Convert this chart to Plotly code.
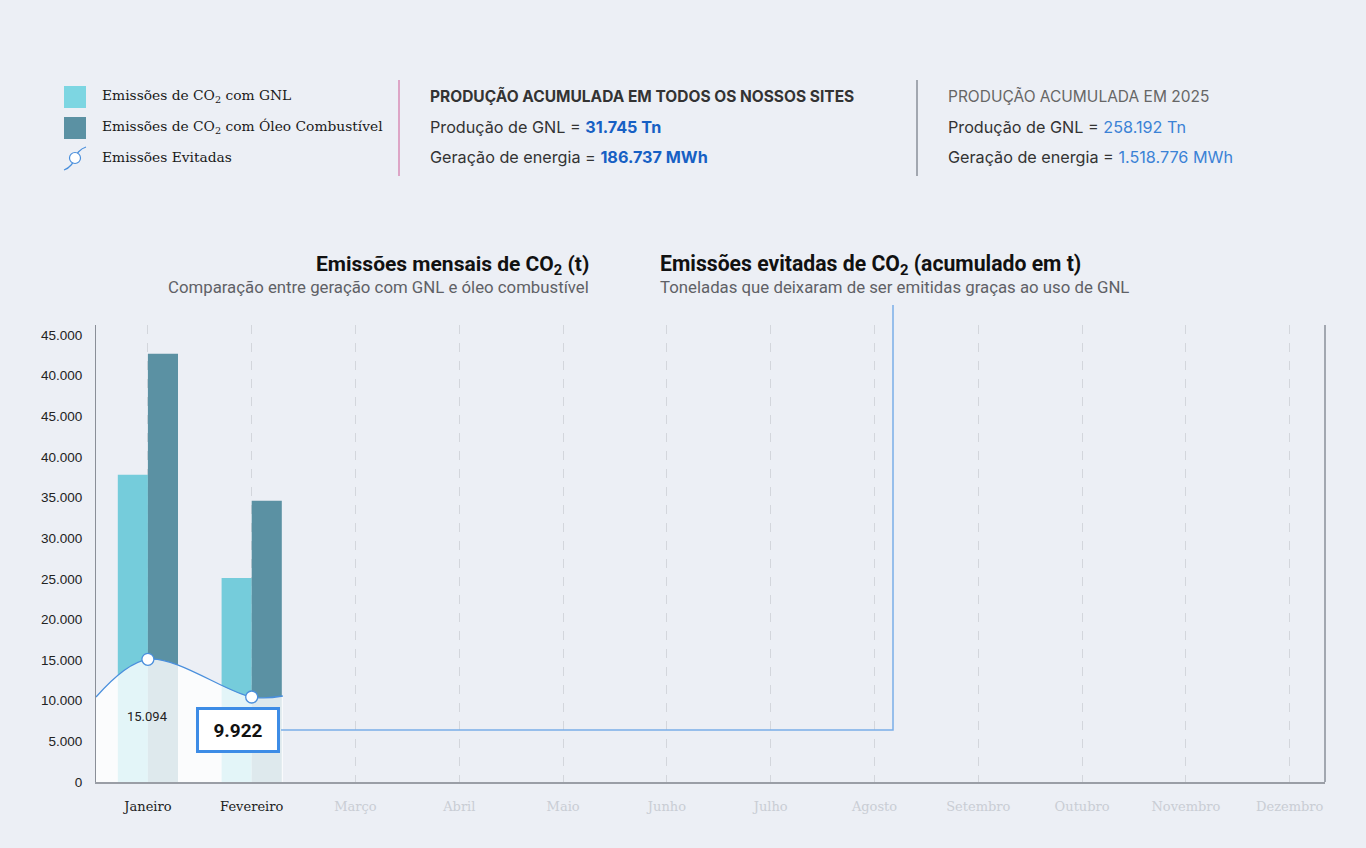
import plotly.graph_objects as go

# --- data ---
meses = ["Janeiro", "Fevereiro", "Março", "Abril", "Maio", "Junho", "Julho",
         "Agosto", "Setembro", "Outubro", "Novembro", "Dezembro"]
meses_idx = list(range(len(meses)))
meses_com_dados = [0, 1]

emissoes_gnl = [37800, 25100]
emissoes_oleo = [52700, 34600]

# curva de emissões evitadas (inclui pontos de borda da área)
evitadas_x = [-0.5, 0, 1, 1.3]
evitadas_y = [10460, 15094, 10460, 10580]
evitadas_pontos = [15094, 10460]
evitadas_rotulos = ["15.094", "9.922"]

y_tickvals = [0, 5000, 10000, 15000, 20000, 25000, 30000, 35000, 40000, 45000, 50000, 55000]
y_ticktext = ["0", "5.000", "10.000", "15.000", "20.000", "25.000", "30.000",
              "35.000", "40.000", "45.000", "40.000", "45.000"]

COR_GNL = "#75ccdb"
COR_OLEO = "#5b91a3"
COR_LINHA = "#4a8fdc"
BG = "#eceff5"

W, H = 1366, 848
M_L, M_R, M_T, M_B = 96, 41, 325, 66


def px(x):
    return (x - M_L) / (W - M_L - M_R)


def py(y):
    return (H - M_B - y) / (H - M_T - M_B)


def texto(fig, x, y, txt, size, color="#222", family="Roboto", anchor="left"):
    fig.add_annotation(xref="paper", yref="paper", x=px(x), y=py(y),
                       xanchor=anchor, yanchor="middle", text=txt, showarrow=False,
                       font=dict(family=family, size=size, color=color))


fig = go.Figure()

fig.add_trace(go.Bar(x=meses_com_dados, y=emissoes_gnl, marker_color=COR_GNL,
                     marker_line_width=0, name="GNL", hoverinfo="y"))
fig.add_trace(go.Bar(x=meses_com_dados, y=emissoes_oleo, marker_color=COR_OLEO,
                     marker_line_width=0, name="Óleo", hoverinfo="y"))

fig.add_trace(go.Scatter(
    x=evitadas_x, y=evitadas_y, mode="lines",
    line=dict(color=COR_LINHA, width=1.3, shape="spline", smoothing=1),
    fill="tozeroy", fillcolor="rgba(255,255,255,0.8)", hoverinfo="skip",
))
fig.add_trace(go.Scatter(
    x=meses_com_dados, y=evitadas_pontos, mode="markers",
    marker=dict(size=12, color="white", line=dict(color=COR_LINHA, width=1.3)),
    hoverinfo="y",
))

tick_months = []
for i, m in enumerate(meses):
    cor = "#222222" if i in meses_com_dados else "#c9cdd4"
    tick_months.append(f"<span style='color:{cor}'>{m}</span>")

fig.update_layout(
    width=W, height=H,
    margin=dict(l=M_L, r=M_R, t=M_T, b=M_B),
    paper_bgcolor=BG, plot_bgcolor=BG,
    showlegend=False,
    barmode="group", bargap=0.42, bargroupgap=0,
    xaxis=dict(
        range=[-0.5, 11.34], tickvals=meses_idx, ticktext=tick_months,
        showgrid=True, gridcolor="#d3d6dc", griddash="dash", gridwidth=1,
        showline=True, linecolor="#9a9ea6", linewidth=1.5, zeroline=False,
        tickfont=dict(family="DejaVu Serif", size=13, color="#222"),
        ticks="", ticklabelstandoff=12,
    ),
    yaxis=dict(
        range=[0, 56230], tickvals=y_tickvals, ticktext=y_ticktext,
        showgrid=False, zeroline=False,
        showline=True, linecolor="#8a8f98", linewidth=1,
        tickfont=dict(family="Liberation Sans", size=13.5, color="#222"),
        ticks="", ticklabelstandoff=10,
    ),
)

# linha do eixo à direita
fig.add_shape(type="line", xref="paper", yref="paper", x0=1, x1=1, y0=0, y1=1,
              line=dict(color="#8a8f98", width=1.5))

# conector entre o rótulo e o título da direita
fig.add_shape(type="path", xref="paper", yref="paper",
              path=f"M {px(281)} {py(730)} L {px(893)} {py(730)} L {px(893)} {py(305)}",
              line=dict(color="#7aaee8", width=1.5))

# rótulos dos valores evitados
fig.add_annotation(x=meses_com_dados[0], y=8100, text=evitadas_rotulos[0],
                   showarrow=False, font=dict(family="Roboto", size=13, color="#222"))
fig.add_annotation(xref="paper", yref="paper", x=px(238), y=py(730),
                   xanchor="center", yanchor="middle",
                   text=f"<b>{evitadas_rotulos[1]}</b>", showarrow=False,
                   bgcolor="white", bordercolor="#3d8ce6", borderwidth=3,
                   width=76, height=38,
                   font=dict(family="Roboto", size=19, color="#111"))

# títulos dos gráficos
texto(fig, 591, 265, "<b>Emissões mensais de CO<sub>2</sub> (t)</b>", 21, "#111", anchor="right")
texto(fig, 591, 287, "Comparação entre geração com GNL e óleo combustível", 16.8, "#5f6166", anchor="right")
texto(fig, 658, 265, "<b>Emissões evitadas de CO<sub>2</sub> (acumulado em t)</b>", 21.2, "#111")
texto(fig, 658, 287, "Toneladas que deixaram de ser emitidas graças ao uso de GNL", 16.8, "#5f6166")

# legenda manual
fig.add_shape(type="rect", xref="paper", yref="paper", x0=px(64), x1=px(86), y0=py(108), y1=py(86),
              fillcolor="#7dd6e2", line_width=0)
fig.add_shape(type="rect", xref="paper", yref="paper", x0=px(64), x1=px(86), y0=py(139), y1=py(117),
              fillcolor=COR_OLEO, line_width=0)
fig.add_shape(type="path", xref="paper", yref="paper",
              path=(f"M {px(64)} {py(170)} C {px(70)} {py(168)} {px(74)} {py(162)} {px(75)} {py(158)} "
                    f"C {px(76)} {py(154)} {px(80)} {py(149)} {px(86)} {py(147)}"),
              line=dict(color=COR_LINHA, width=1.2))
fig.add_shape(type="circle", xref="paper", yref="paper", x0=px(69.5), x1=px(80.5), y0=py(163.5), y1=py(152.5),
              fillcolor="white", line=dict(color=COR_LINHA, width=1.2))

legenda = ["Emissões de CO<sub>2</sub> com GNL",
           "Emissões de CO<sub>2</sub> com Óleo Combustível",
           "Emissões Evitadas"]
for txt, yy in zip(legenda, [96, 127, 157]):
    texto(fig, 100, yy, txt, 13.8, "#1a1a1a", family="DejaVu Serif")

# separadores
fig.add_shape(type="line", xref="paper", yref="paper", x0=px(399), x1=px(399), y0=py(176), y1=py(80),
              line=dict(color="#d98cb6", width=1.5))
fig.add_shape(type="line", xref="paper", yref="paper", x0=px(917), x1=px(917), y0=py(176), y1=py(80),
              line=dict(color="#8a8f98", width=1.5))

# blocos de produção
cabecalhos = [
    ("<b>PRODUÇÃO ACUMULADA EM TODOS OS NOSSOS SITES</b>", "#333", 428),
    ("PRODUÇÃO ACUMULADA EM 2025", "#666", 946),
]
linhas_total = [
    "Produção de GNL = <b><span style='color:#1660c4'>31.745 Tn</span></b>",
    "Geração de energia = <b><span style='color:#1660c4'>186.737 MWh</span></b>",
]
linhas_2025 = [
    "Produção de GNL = <span style='color:#3b82d6'>258.192 Tn</span>",
    "Geração de energia = <span style='color:#3b82d6'>1.518.776 MWh</span>",
]
for txt, cor, x0 in cabecalhos:
    texto(fig, x0, 96, txt, 15.5, cor, family="Inter")
for linhas, x0 in [(linhas_total, 428), (linhas_2025, 946)]:
    for txt, yy in zip(linhas, [127, 157]):
        texto(fig, x0, yy, txt, 16.2, "#333", family="Inter")

fig.write_html("out.html", config={"displayModeBar": False},
               post_script="document.body.style.margin='0';")
